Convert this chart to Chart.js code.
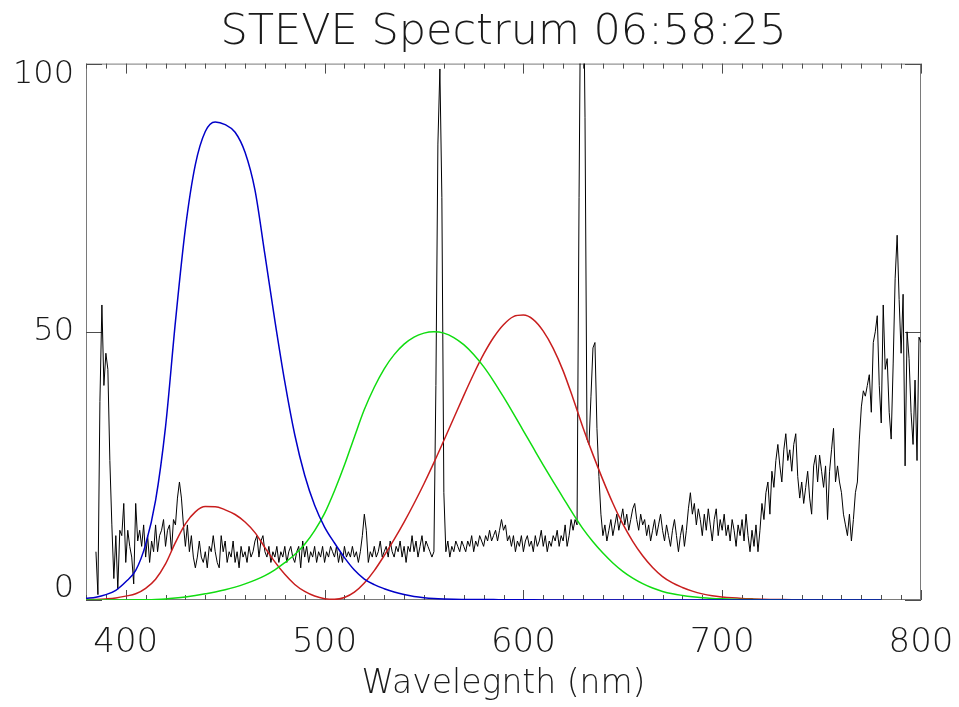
<!DOCTYPE html>
<html lang="en">
  <head>
    <meta charset="UTF-8" />
    <title>STEVE Spectrum 06:58:25</title>
    <style>
      body { margin: 0; background: #fff; }
    </style>
  </head>
  <body>
    <canvas id="spectrum" width="959" height="707"></canvas>

    <script src="https://cdn.jsdelivr.net/npm/chart.js"></script>

    <script>
      // axis layout
      const xMin = 380;
      const xMax = 800;
      const xMinorStep = 10;
      const xTicks = [400, 500, 600, 700, 800];
      const yTicks = [0, 50, 100];

      // measured spectrum, one value per nm starting at 385 nm
      const specStart = 385;
      const specStep = 1;
      const spectrum = [
        9, 1, 37, 55, 40, 46, 43, 26, 14, 4,        // 385
        12, 2, 13, 12, 18, 7, 13, 10, 8, 3,         // 395
        18, 11, 13, 10, 14, 8, 12, 7, 11, 9,        // 405
        14, 9, 12, 13, 15, 10, 13, 14, 9, 15,       // 415
        14, 19, 22, 19, 14, 10, 14, 9, 12, 8,       // 425
        6, 8, 11, 8, 7, 9, 6, 10, 9, 12,            // 435
        9, 7, 6, 12, 9, 11, 7, 9, 8, 11,            // 445
        7, 9, 6, 10, 8, 9, 7, 10, 8, 9,             // 455
        11, 12, 8, 11, 12, 9, 8, 10, 7, 9,          // 465
        8, 10, 7, 9, 8, 10, 7, 9, 10, 8,            // 475
        7, 9, 10, 6, 11, 8, 10, 7, 9, 8,            // 485
        10, 7, 9, 8, 10, 7, 9, 8, 10, 9,            // 495
        8, 10, 7, 9, 7, 10, 8, 9, 8, 10,            // 505
        8, 9, 7, 9, 12, 16, 13, 7, 9, 8,            // 515
        10, 8, 9, 11, 8, 9, 10, 8, 11, 9,           // 525
        8, 10, 9, 11, 8, 10, 7, 10, 9, 12,          // 535
        9, 11, 8, 10, 12, 9, 11, 10, 9, 8,          // 545
        9, 40, 85, 99, 75, 20, 9, 11, 8, 10,        // 555
        9, 11, 10, 9, 11, 10, 9, 11, 10, 12,        // 565
        9, 11, 10, 12, 11, 10, 12, 11, 13, 11,      // 575
        12, 13, 11, 13, 15, 13, 14, 11, 12, 10,     // 585
        12, 9, 11, 10, 12, 9, 11, 12, 10, 11,       // 595
        9, 12, 10, 11, 13, 10, 12, 9, 11, 10,       // 605
        12, 11, 13, 10, 12, 11, 14, 10, 12, 15,     // 615
        13, 15, 14, 75, 125, 125, 90, 30, 29, 38,   // 625
        47, 48, 32, 23, 16, 12, 14, 11, 13, 15,     // 635
        12, 14, 16, 13, 15, 17, 14, 16, 13, 15,     // 645
        17, 18, 15, 13, 16, 14, 15, 12, 14, 11,     // 655
        13, 15, 12, 14, 16, 13, 11, 14, 12, 10,     // 665
        13, 15, 12, 9, 12, 14, 10, 13, 17, 20,      // 675
        16, 18, 14, 17, 15, 12, 16, 13, 17, 14,     // 685
        11, 15, 17, 12, 15, 13, 16, 12, 14, 11,     // 695
        15, 13, 10, 14, 12, 15, 11, 16, 12, 9,      // 705
        13, 10, 14, 9, 13, 18, 15, 20, 22, 16,      // 715
        24, 21, 26, 29, 25, 22, 28, 31, 26, 28,     // 725
        24, 29, 31, 23, 19, 22, 18, 21, 24, 19,     // 735
        16, 25, 27, 22, 27, 24, 21, 25, 15, 24,     // 745
        28, 32, 22, 25, 22, 20, 16, 14, 12, 16,     // 755
        11, 15, 20, 22, 30, 36, 39, 38, 40, 42,     // 765
        35, 48, 50, 53, 40, 33, 55, 43, 45, 35,     // 775
        30, 44, 60, 68, 56, 46, 57, 25, 50, 45,     // 785
        35, 29, 41, 26, 49, 48                      // 795
      ];

      // colour matching curves, every 5 nm from 380 to 780 nm
      const curveStart = 380;
      const curveStep = 5;
      const blueCurve = [
        0.32, 0.53, 1.0, 1.81, 3.39, 5.51, 10.37, 18.57, 32.28, 51.95,
        69.28, 81.15, 87.35, 89.13, 88.61, 87.21, 83.46, 76.41, 64.38, 52.1,
        40.65, 30.81, 23.26, 17.67, 13.6, 10.62, 7.91, 5.59, 3.91, 2.86,
        2.11, 1.49, 1.02, 0.67, 0.44, 0.29, 0.2, 0.14, 0.11, 0.09,
        0.08, 0.07, 0.06, 0.05, 0.04, 0.03, 0.02, 0.01, 0.01, 0.01,
        0, 0, 0, 0, 0, 0, 0, 0, 0, 0,
        0, 0, 0, 0, 0, 0, 0, 0, 0, 0,
        0, 0, 0, 0, 0, 0, 0, 0, 0, 0,
        0
      ];
      const greenCurve = [
        0, 0, 0.01, 0.01, 0.02, 0.03, 0.06, 0.11, 0.2, 0.37,
        0.58, 0.84, 1.15, 1.49, 1.9, 2.4, 3.0, 3.7, 4.55, 5.63,
        6.95, 8.47, 10.4, 12.93, 16.15, 20.37, 25.15, 30.41, 35.5, 39.66,
        43.1, 45.74, 47.7, 49.02, 49.75, 50.0, 49.75, 48.93, 47.6, 45.77,
        43.5, 40.82, 37.85, 34.75, 31.55, 28.34, 25.15, 22.06, 19.05, 16.05,
        13.25, 10.85, 8.75, 6.91, 5.35, 4.08, 3.05, 2.23, 1.6, 1.16,
        0.85, 0.6, 0.41, 0.29, 0.21, 0.15, 0.1, 0.07, 0.05, 0.04,
        0.03, 0.02, 0.01, 0.01, 0.01, 0, 0, 0, 0, 0,
        0
      ];
      const redCurve = [
        0.07, 0.11, 0.21, 0.38, 0.72, 1.16, 2.18, 3.88, 6.72, 10.74,
        14.2, 16.43, 17.41, 17.4, 16.81, 15.94, 14.54, 12.56, 9.77, 7.11,
        4.78, 2.9, 1.6, 0.74, 0.25, 0.12, 0.47, 1.46, 3.16, 5.48,
        8.28, 11.29, 14.52, 17.99, 21.67, 25.6, 29.73, 33.92, 38.11, 42.13,
        45.82, 48.93, 51.32, 52.84, 53.11, 52.28, 50.13, 46.92, 42.72, 37.57,
        32.12, 27.1, 22.4, 18.04, 14.18, 10.94, 8.25, 6.06, 4.37, 3.18,
        2.34, 1.65, 1.14, 0.79, 0.57, 0.41, 0.29, 0.21, 0.14, 0.1,
        0.07, 0.05, 0.04, 0.03, 0.02, 0.01, 0.01, 0.01, 0, 0,
        0
      ];

      const toPoints = (start, step, values) =>
        values.map((v, i) => ({ x: start + i * step, y: v }));

      const textColor = "#1a1a1a";
      const fontFamily = "'DejaVu Sans', sans-serif";
      const fontWeight = "200";

      // IDL style box with inward ticks
      const frame = {
        id: "frame",
        beforeDatasetsDraw(chart) {
          const { ctx, chartArea: a, scales } = chart;
          ctx.save();
          ctx.lineWidth = 1;
          ctx.strokeStyle = "#7a7a7a";
          ctx.strokeRect(a.left + 0.5, a.top + 0.5, a.right - a.left - 1, a.bottom - a.top - 1);

          ctx.strokeStyle = "#4d4d4d";
          ctx.beginPath();
          for (let v = xMin; v <= xMax; v += xMinorStep) {
            const px = Math.round(scales.x.getPixelForValue(v)) + 0.5;
            const len = xTicks.includes(v) ? 10 : 5;
            ctx.moveTo(px, a.bottom);
            ctx.lineTo(px, a.bottom - len);
            ctx.moveTo(px, a.top);
            ctx.lineTo(px, a.top + len);
          }
          yTicks.forEach((v) => {
            const py = Math.round(scales.y.getPixelForValue(v)) + 0.5;
            ctx.moveTo(a.left, py);
            ctx.lineTo(a.left + 16, py);
            ctx.moveTo(a.right, py);
            ctx.lineTo(a.right - 16, py);
          });
          ctx.stroke();
          ctx.restore();
        },
      };

      const ctx = document.getElementById("spectrum");

      const chart = new Chart(ctx, {
        type: "line",
        data: {
          datasets: [
            {
              label: "blue",
              data: toPoints(curveStart, curveStep, blueCurve),
              borderColor: "#0000c8",
              borderWidth: 1.5,
              cubicInterpolationMode: "monotone",
              order: 0,
            },
            {
              label: "green",
              data: toPoints(curveStart, curveStep, greenCurve),
              borderColor: "#10dc10",
              borderWidth: 1.5,
              cubicInterpolationMode: "monotone",
              order: 0,
            },
            {
              label: "red",
              data: toPoints(curveStart, curveStep, redCurve),
              borderColor: "#c81e1e",
              borderWidth: 1.5,
              cubicInterpolationMode: "monotone",
              order: 0,
            },
            {
              label: "spectrum",
              data: toPoints(specStart, specStep, spectrum),
              borderColor: "#000000",
              borderWidth: 1,
              order: 1,
            },
          ],
        },
        options: {
          responsive: false,
          animation: false,
          devicePixelRatio: 1,
          elements: { point: { radius: 0 } },
          layout: { padding: { left: 0, right: 38, top: 0, bottom: 0 } },
          plugins: {
            legend: { display: false },
            tooltip: { enabled: false },
            title: {
              display: true,
              fullSize: false,
              text: "STEVE Spectrum 06:58:25",
              color: textColor,
              font: { family: fontFamily, size: 43, weight: fontWeight },
              padding: { top: 7, bottom: 5 },
            },
          },
          scales: {
            x: {
              type: "linear",
              min: xMin,
              max: xMax,
              afterBuildTicks: (s) => {
                s.ticks = xTicks.map((v) => ({ value: v }));
              },
              afterFit: (s) => {
                s.height = 107;
                s.paddingLeft = 0;
                s.paddingRight = 0;
              },
              grid: { display: false, drawTicks: false },
              border: { display: false },
              ticks: {
                color: textColor,
                padding: 23,
                maxRotation: 0,
                font: { family: fontFamily, size: 34, weight: fontWeight },
              },
              title: {
                display: true,
                text: "Wavelegnth (nm)",
                color: textColor,
                font: { family: fontFamily, size: 33, weight: fontWeight },
                padding: { top: 0, bottom: 3 },
              },
            },
            y: {
              min: 0,
              max: 100,
              afterBuildTicks: (s) => {
                s.ticks = yTicks.map((v) => ({ value: v }));
              },
              afterFit: (s) => {
                s.width = 86;
              },
              grid: { display: false, drawTicks: false },
              border: { display: false },
              ticks: {
                color: textColor,
                padding: 12,
                font: { family: fontFamily, size: 32, weight: fontWeight, lineHeight: 0.72 },
                // IDL pushes the end labels inside the axis range
                callback: (v) => (v === 100 ? ["", "100"] : v === 0 ? ["0", ""] : String(v)),
              },
            },
          },
        },
        plugins: [frame],
      });
    </script>
  </body>
</html>
